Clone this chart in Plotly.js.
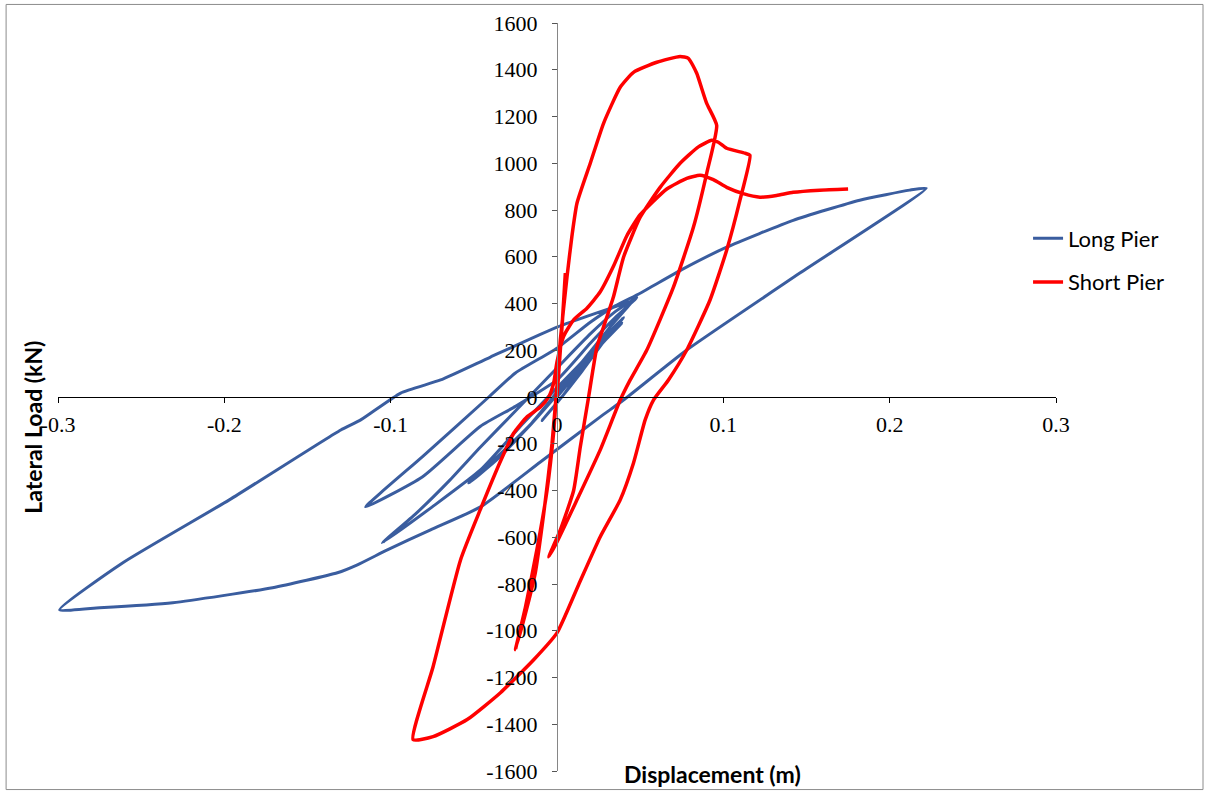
<!DOCTYPE html>
<html>
<head>
<meta charset="utf-8">
<script src="https://cdn.plot.ly/plotly-3.0.1.min.js"></script>
<style>html,body{margin:0;padding:0;background:#fff;}#chart{width:1209px;height:793px;}</style>
</head>
<body>
<div id="chart"></div>
<script>
// Long Pier: displacement (m) and lateral load (kN)
const longPierX = [0,0.01,0.025,0.039,0.028,0.015,0.004,-0.009,0.0,0.015,0.03,0.040,0.028,0.012,0,-0.015,-0.035,-0.053,-0.038,-0.02,0,0.02,0.035,0.046,0.032,0.015,0,-0.02,-0.046,-0.075,-0.105,-0.085,-0.065,-0.046,-0.025,0,0.02,0.035,0.048,0.035,0.02,0,-0.025,-0.046,-0.081,-0.115,-0.081,-0.041,-0.025,0,0.02,0.035,0.050,0.075,0.102,0.142,0.182,0.212,0.222,0.146,0.078,0.040,0.026,-0.010,-0.046,-0.076,-0.102,-0.120,-0.132,-0.171,-0.231,-0.275,-0.299,-0.261,-0.197,-0.130,-0.118,-0.094,-0.070,-0.040,0,0.024,0.045];
const longPierY = [0,85,215,316,235,120,10,-100,-25,110,255,340,250,120,20,-110,-250,-368,-280,-150,10,180,330,414,300,150,40,-110,-312,-470,-624,-500,-360,-214,-60,124,270,365,425,340,230,73,-40,-125,-342,-470,-256,0,103,209,320,390,444,545,641,756,842,885,893,530,201,-13,-85,-278,-470,-568,-654,-718,-752,-816,-880,-902,-910,-709,-440,-141,-98,17,73,171,299,360,410];

// Short Pier: displacement (m) and lateral load (kN)
const shortPierX = [0,0.002,0.004,0.005,0.003,0.0,-0.003,-0.008,-0.013,-0.018,-0.025,-0.019,-0.012,-0.006,-0.002,0.0,0.002,0.006,0.009,0.012,0.020,0.028,0.038,0.046,0.060,0.074,0.079,0.084,0.087,0.090,0.096,0.090,0.082,0.070,0.054,0.044,0.038,0.026,0.012,0.0,-0.005,0.002,0.010,0.014,0.019,0.024,0.028,0.034,0.040,0.050,0.062,0.074,0.085,0.093,0.097,0.102,0.113,0.116,0.110,0.102,0.092,0.078,0.067,0.058,0.053,0.046,0.038,0.026,0.013,0,-0.014,-0.034,-0.054,-0.0745,-0.0865,-0.0745,-0.058,-0.046,-0.034,-0.026,-0.018,-0.010,-0.005,-0.002,0.0,0.004,0.010,0.018,0.026,0.034,0.042,0.050,0.066,0.078,0.086,0.094,0.102,0.112,0.122,0.132,0.142,0.158,0.175];
const shortPierY = [0,200,400,530,300,50,-200,-500,-750,-900,-1081,-900,-650,-400,-150,50,244,513,690,829,1000,1171,1325,1389,1432,1457,1449,1385,1320,1256,1162,957,726,470,201,73,-13,-226,-440,-620,-684,-568,-400,-214,0,214,300,430,598,769,897,1000,1070,1098,1090,1064,1043,1034,842,628,415,201,73,-13,-98,-282,-440,-598,-803,-1009,-1124,-1265,-1380,-1453,-1466,-1154,-697,-480,-275,-154,-85,-43,0,60,150,260,330,380,450,560,690,780,890,935,949,930,897,870,855,862,876,885,890];

// Tick labels
const xTickVals = [-0.3,-0.2,-0.1,0,0.1,0.2,0.3];
const xTickText = ['-0.3','-0.2','-0.1','0','0.1','0.2','0.3'];
const yTickVals = [-1600,-1400,-1200,-1000,-800,-600,-400,-200,0,200,400,600,800,1000,1200,1400,1600];
const yTickText = ['-1600','-1400','-1200','-1000','-800','-600','-400','-200','0','200','400','600','800','1000','1200','1400','1600'];

const traces = [
  {x: longPierX, y: longPierY, name: 'Long Pier', mode: 'lines', type: 'scatter', legendgroup: 'a',
   line: {color: '#3A5D9F', width: 3, shape: 'spline', smoothing: 0.5}},
  {x: shortPierX, y: shortPierY, name: 'Short Pier', mode: 'lines', type: 'scatter', legendgroup: 'b',
   line: {color: '#FF0000', width: 3.5, shape: 'spline', smoothing: 0.5}}
];

const tickFont = {family: 'Liberation Serif', size: 22, color: '#000'};

const layout = {
  width: 1209, height: 793,
  margin: {l: 58, r: 153, t: 23, b: 22, pad: 0},
  paper_bgcolor: '#fff', plot_bgcolor: '#fff',
  showlegend: true,
  legend: {x: 0.972, xanchor: 'left', y: 0.74, yanchor: 'top',
           font: {family: 'Lato', size: 22, color: '#000'},
           bgcolor: 'rgba(0,0,0,0)', tracegroupgap: 12},
  xaxis: {range: [-0.3, 0.3], anchor: 'free', position: 0.5,
          tickvals: xTickVals, ticktext: xTickText, tickfont: tickFont,
          showline: true, linecolor: '#000', linewidth: 1,
          ticks: 'outside', ticklen: 5, tickcolor: '#000', ticklabelstandoff: 3,
          showgrid: false, zeroline: false, fixedrange: true},
  yaxis: {range: [-1600, 1600], anchor: 'free', position: 0.5,
          tickvals: yTickVals, ticktext: yTickText, tickfont: tickFont,
          showline: true, linecolor: '#868686', linewidth: 1,
          ticks: 'outside', ticklen: 5, tickcolor: '#555', ticklabelstandoff: 10,
          showgrid: false, zeroline: false, fixedrange: true},
  annotations: [
    {text: '<b>Displacement (m)</b>', xref: 'paper', yref: 'paper', x: 0.656, y: -0.004,
     xanchor: 'center', yanchor: 'middle', showarrow: false,
     font: {family: 'Lato', size: 23, color: '#000'}},
    {text: '<b>Lateral Load (kN)</b>', xref: 'paper', yref: 'paper', x: -0.025, y: 0.459,
     xanchor: 'center', yanchor: 'middle', showarrow: false, textangle: -90,
     font: {family: 'Lato', size: 23, color: '#000'}}
  ],
  shapes: [
    {type: 'rect', xref: 'paper', yref: 'paper', x0: -0.052, x1: 1.1473, y0: -0.0248, y1: 1.0248,
     line: {color: '#8c8c8c', width: 1}, fillcolor: 'rgba(0,0,0,0)', layer: 'below'}
  ]
};

Plotly.newPlot('chart', traces, layout, {displayModeBar: false, staticPlot: true});
</script>
</body>
</html>
